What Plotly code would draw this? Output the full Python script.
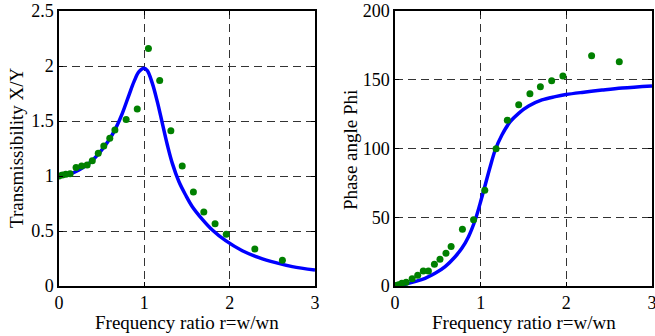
import plotly.graph_objects as go

# ---- data ----
# Measured points (shared frequency ratios)
r_meas = [0, 0.04, 0.08, 0.13, 0.20, 0.265, 0.33, 0.39, 0.46, 0.525, 0.595, 0.655,
          0.787, 0.917, 1.048, 1.18, 1.311, 1.444, 1.575, 1.697, 1.829, 1.96, 2.295, 2.618]
T_meas = [1.00, 1.01, 1.015, 1.02, 1.078, 1.09, 1.10, 1.138, 1.206, 1.273, 1.343, 1.418,
          1.513, 1.609, 2.16, 1.868, 1.412, 1.091, 0.855, 0.673, 0.565, 0.47, 0.336, 0.233]
phi_meas = [0.3, 1.0, 2.0, 2.7, 5.3, 7.8, 10.9, 10.9, 15.8, 19.4, 23.8, 28.8,
            41.2, 48.2, 69.6, 99.9, 120.5, 131.9, 139.9, 145.0, 149.3, 152.7, 167.5, 163.1]

# Theoretical curve (transmissibility)
r_T = [0, 0.117, 0.234, 0.352, 0.469, 0.586, 0.664, 0.742, 0.82, 0.879, 0.9375, 0.996,
       1.035, 1.094, 1.152, 1.211, 1.27, 1.328, 1.406, 1.484, 1.5625, 1.68, 1.797,
       1.953, 2.148, 2.344, 2.539, 2.734, 3.0]
T_curve = [0.995, 1.015, 1.055, 1.115, 1.206, 1.327, 1.433, 1.57, 1.736, 1.858, 1.948, 1.979,
           1.958, 1.842, 1.676, 1.479, 1.282, 1.115, 0.948, 0.827, 0.721, 0.606, 0.509,
           0.412, 0.321, 0.258, 0.212, 0.176, 0.145]

# Theoretical curve (phase angle)
r_phi = [0, 0.117, 0.234, 0.351, 0.468, 0.585, 0.702, 0.78, 0.858, 0.936, 0.994, 1.053,
         1.111, 1.17, 1.248, 1.345, 1.443, 1.56, 1.715, 1.871, 1.996, 2.183, 2.417,
         2.651, 3.0]
phi_curve = [0, 1.2, 3.2, 5.6, 9.2, 14.1, 21.3, 27.4, 35.9, 48.0, 60.1, 73.5,
             86.8, 98.9, 109.8, 119.5, 125.6, 130.9, 135.3, 137.7, 139.2, 140.8, 142.5,
             144.0, 145.5]

x_ticks = [0, 1, 2, 3]
y1_ticks = [0, 0.5, 1, 1.5, 2, 2.5]
y2_ticks = [0, 50, 100, 150, 200]

x_title = "Frequency ratio r=w/wn"
y1_title = "Transmissibility X/Y"
y2_title = "Phase angle Phi"

W, H = 655, 336
FONT = "Liberation Serif, Times New Roman, Times, DejaVu Serif, serif"
BLUE = "#0000ff"
GREEN = "#008000"

fig = go.Figure()
fig.add_trace(go.Scatter(x=r_T, y=T_curve, mode="lines", line=dict(color=BLUE, width=3.5, shape="spline"),
                         xaxis="x", yaxis="y", showlegend=False))
fig.add_trace(go.Scatter(x=r_meas, y=T_meas, mode="markers", marker=dict(color=GREEN, size=7),
                         xaxis="x", yaxis="y", showlegend=False))
fig.add_trace(go.Scatter(x=r_phi, y=phi_curve, mode="lines", line=dict(color=BLUE, width=3.5, shape="spline"),
                         xaxis="x2", yaxis="y2", showlegend=False))
fig.add_trace(go.Scatter(x=r_meas, y=phi_meas, mode="markers", marker=dict(color=GREEN, size=7),
                         xaxis="x2", yaxis="y2", showlegend=False))

ydom = [1 - 286 / H, 1 - 11 / H]
common = dict(showline=True, linecolor="black", linewidth=1.5, mirror="ticks",
              ticks="inside", ticklen=4, tickcolor="black", automargin=False,
              ticklabeloverflow="allow",
              showgrid=True, gridcolor="#333333", griddash="8px,5px", gridwidth=1,
              zeroline=False, tickfont=dict(family=FONT, size=18, color="black"))

TF = dict(family=FONT, size=19, color="black")
fig.update_layout(
    template="none",
    width=W, height=H,
    margin=dict(l=0, r=0, t=0, b=0, pad=0),
    paper_bgcolor="white", plot_bgcolor="white",
    font=dict(family=FONT, size=18, color="black"),
    xaxis=dict(domain=[59 / W, 315 / W], range=[0, 3], tickvals=x_ticks, anchor="y", **common),
    yaxis=dict(domain=ydom, range=[0, 2.5], tickvals=y1_ticks, anchor="x", **common),
    xaxis2=dict(domain=[395 / W, 652 / W], range=[0, 3], tickvals=x_ticks, anchor="y2", **common),
    yaxis2=dict(domain=ydom, range=[0, 200], tickvals=y2_ticks, anchor="x2", **common),
    annotations=[
        dict(text=x_title, x=187 / W, y=1 - 322 / H, xref="paper", yref="paper",
             xanchor="center", yanchor="middle", showarrow=False, font=TF),
        dict(text=x_title, x=523.5 / W, y=1 - 322 / H, xref="paper", yref="paper",
             xanchor="center", yanchor="middle", showarrow=False, font=TF),
        dict(text=y1_title, x=16 / W, y=1 - 148 / H, xref="paper", yref="paper", textangle=-90,
             xanchor="center", yanchor="middle", showarrow=False, font=TF),
        dict(text=y2_title, x=350 / W, y=1 - 150 / H, xref="paper", yref="paper", textangle=-90,
             xanchor="center", yanchor="middle", showarrow=False, font=TF),
    ],
)

fig.write_html("out.html", config={"displayModeBar": False},
               post_script="document.body.style.margin='0';document.body.style.overflow='hidden';")
